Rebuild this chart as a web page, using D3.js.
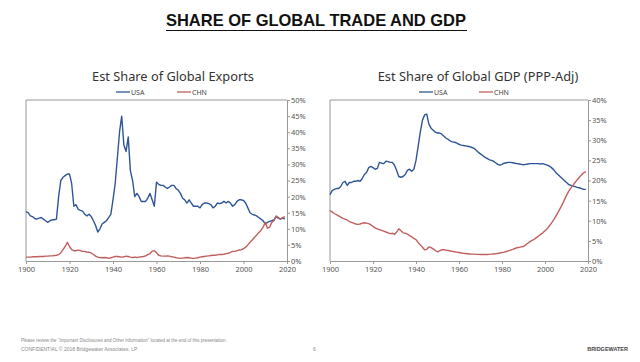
<!DOCTYPE html>
<html>
<head>
<meta charset="utf-8">
<script src="https://cdn.jsdelivr.net/npm/d3@7"></script>
<style>
  body { margin: 0; background: #fff; }
  svg { display: block; }
  .tick text { font-family: "Noto Sans", sans-serif; font-size: 7.5px; fill: #555; }
  .tick line { stroke: #999; }
  .domain { stroke: #999; }
</style>
</head>
<body>
<script>
"use strict";

var years = d3.range(1900, 2020);

// Est share of global exports, % (1900..2019)
var usaExports = [
  15.3, 15, 14, 13.8, 13.2, 13, 13.3, 13.5, 13, 12.5,
  12, 12.5, 12.8, 12.8, 13, 20, 25, 26, 26.5, 27,
  27, 24, 17, 17.5, 16, 15.7, 15.5, 14.5, 14, 14.5,
  13.8, 12.5, 11, 9, 10, 11.5, 12, 12.5, 13.5, 14.5,
  19, 24, 32, 40, 45, 36, 34, 38.5, 28, 25,
  20, 21, 20, 18.5, 18.5, 18.5, 19.5, 21, 19, 17,
  24.5, 23.8, 23.5, 23.5, 23, 22.5, 23, 23.5, 23.5, 22.5,
  22, 21, 19.5, 19, 18, 19, 18, 17, 17, 17,
  16.5, 17.5, 18, 18, 17.8, 17.5, 16.5, 17, 18, 17.8,
  18, 18.5, 18, 18.5, 18, 17, 17.5, 18.5, 19, 19,
  18.8, 18, 16.5, 15, 14.5, 14.3, 14, 13.5, 13, 12.5,
  11.5, 12, 12.3, 12.5, 12.8, 13.8, 13.3, 13, 13.4, 13
];
var chnExports = [
  1.2, 1.2, 1.2, 1.3, 1.3, 1.3, 1.4, 1.4, 1.4, 1.5,
  1.5, 1.6, 1.6, 1.7, 1.8, 2, 2.5, 3.5, 4.5, 5.8,
  4.5, 3.5, 3.2, 3.2, 3.4, 3.2, 3, 3, 2.8, 2.7,
  2.5, 2, 1.5, 1.2, 1.1, 1, 1.1, 1, 0.8, 1,
  1.2, 1.4, 1.4, 1.3, 1.2, 1.3, 1.5, 1.4, 1.2, 1.1,
  1.2, 1.1, 1.2, 1.3, 1.4, 1.6, 2, 2.3, 3, 3.2,
  2.6, 1.8, 1.6, 1.5, 1.5, 1.6, 1.5, 1.3, 1.2, 1,
  0.9, 0.8, 0.9, 1, 1.1, 1, 0.9, 0.8, 0.9, 1,
  1.2, 1.3, 1.4, 1.5, 1.6, 1.7, 1.8, 1.8, 1.9, 2,
  2, 2.1, 2.3, 2.4, 2.7, 3, 3, 3.2, 3.4, 3.5,
  3.8, 4.3, 5, 5.8, 6.5, 7.3, 8, 8.8, 9.5, 10.5,
  12, 10.2, 10.5, 12, 12.5, 14, 13.5, 13, 13.5, 13.8
];

// Est share of global GDP (PPP-adj), % (1900..2019)
var usaGdp = [
  16.5, 17.5, 17.8, 18, 18, 18.5, 19.5, 19.8, 18.8, 19.5,
  19.5, 19.8, 19.8, 20, 19.8, 20.5, 21.5, 22, 23.2, 23.5,
  23.2, 22.8, 23, 24.5, 24.3, 24.2, 24.8, 24.7, 24.5, 24.5,
  23.8, 22.5, 21, 20.8, 21, 21.5, 22.5, 22.8, 22.3, 22.8,
  25, 28.5, 32, 35, 36.3, 36.5, 34, 33, 32.5, 32,
  31.8, 31.8, 31.5, 31, 30.5, 30.2, 29.8, 29.6, 29.5, 29.3,
  29, 28.8, 28.7, 28.6, 28.5, 28.4, 28.2, 28, 27.5, 27,
  26.6, 26.2, 25.8, 25.5, 25.2, 25, 24.8, 24.4, 24, 23.8,
  24, 24.3, 24.4, 24.5, 24.5, 24.4, 24.3, 24.2, 24.1, 24,
  23.9, 24, 24.1, 24.2, 24.2, 24.2, 24.2, 24.2, 24.1, 24.2,
  24, 23.8, 23.6, 23.2, 22.7, 22, 21.5, 21, 20.5, 20,
  19.5, 19, 18.8, 18.6, 18.5, 18.3, 18.2, 18, 17.8, 17.8
];
var chnGdp = [
  12.5, 12.2, 11.8, 11.5, 11.2, 10.9, 10.6, 10.4, 10.2, 9.8,
  9.6, 9.4, 9.2, 9.1, 9.2, 9.4, 9.5, 9.4, 9.3, 9,
  8.6, 8.2, 8, 7.8, 7.6, 7.4, 7.2, 7, 6.8, 6.9,
  6.6, 7.2, 8, 7.5, 7, 6.9, 6.7, 6.3, 6, 5.6,
  5.3, 4.6, 4, 3.4, 2.8, 2.9, 3.5, 3.3, 3, 2.6,
  2.3, 2.5, 2.8, 2.8, 2.7, 2.6, 2.5, 2.4, 2.3, 2.2,
  2.1, 2, 1.9, 1.85, 1.8, 1.75, 1.7, 1.7, 1.65, 1.65,
  1.6, 1.6, 1.6, 1.6, 1.65, 1.7, 1.75, 1.8, 1.9, 2,
  2.1, 2.2, 2.35, 2.5, 2.7, 2.9, 3.1, 3.3, 3.4, 3.5,
  3.6, 4, 4.4, 4.8, 5.1, 5.4, 5.8, 6.2, 6.6, 7,
  7.5, 8, 8.7, 9.4, 10.2, 11.1, 12, 13, 14, 15.2,
  16.3, 17.3, 18.1, 18.8, 19.5, 20.2, 20.8, 21.4, 21.9, 22.2
];

var xTicks = [1900, 1920, 1940, 1960, 1980, 2000, 2020];
var seriesNames = ["USA", "CHN"];
var colors = {USA: "#2f5597", CHN: "#c0605e"};

var svg = d3.select("body").append("svg")
    .attr("width", 640)
    .attr("height", 362);

// Main title
svg.append("text")
    .attr("x", 316)
    .attr("y", 26)
    .attr("text-anchor", "middle")
    .attr("font-family", "Liberation Sans, Arial, sans-serif")
    .attr("font-weight", "bold")
    .attr("font-size", 17)
    .attr("textLength", 300)
    .attr("lengthAdjust", "spacingAndGlyphs")
    .attr("fill", "#111")
    .text("SHARE OF GLOBAL TRADE AND GDP");

svg.append("line")
    .attr("x1", 166).attr("x2", 467)
    .attr("y1", 30.5).attr("y2", 30.5)
    .attr("stroke", "#111")
    .attr("stroke-width", 1.2);

function drawChart(opts) {
    var g = svg.append("g");
    var x = d3.scaleLinear().domain([1900, 2020]).range([opts.left, opts.right]);
    var y = d3.scaleLinear().domain([0, opts.yMax]).range([opts.bottom, opts.top]);

    // frame
    g.append("path")
        .attr("d", "M" + opts.left + "," + opts.bottom + "V" + opts.top + "H" + opts.right)
        .attr("fill", "none")
        .attr("stroke", "#999");

    g.append("g")
        .attr("transform", "translate(0," + opts.bottom + ")")
        .call(d3.axisBottom(x).tickValues(xTicks).tickFormat(d3.format("d"))
            .tickSize(3).tickPadding(3));

    g.append("g")
        .attr("transform", "translate(" + opts.right + ",0)")
        .call(d3.axisRight(y).ticks(opts.yMax / 5).tickFormat(function (d) { return d + "%"; })
            .tickSize(3).tickPadding(1));

    g.selectAll(".domain").attr("stroke", "#999");

    var line = d3.line()
        .x(function (d, i) { return x(years[i]); })
        .y(function (d) { return y(d); });

    opts.series.forEach(function (s, i) {
        g.append("path")
            .datum(s)
            .attr("fill", "none")
            .attr("stroke", colors[seriesNames[i]])
            .attr("stroke-width", 1.4)
            .attr("stroke-linejoin", "round")
            .attr("d", line);
    });

    g.append("text")
        .attr("x", opts.titleX)
        .attr("y", 81)
        .attr("text-anchor", "middle")
        .attr("font-family", "Noto Sans, sans-serif")
        .attr("font-size", 12.8)
        .attr("fill", "#333")
        .text(opts.title);

    // legend
    seriesNames.forEach(function (name, i) {
        var lx = opts.legendX[i];
        g.append("line")
            .attr("x1", lx).attr("x2", lx + 14)
            .attr("y1", 92).attr("y2", 92)
            .attr("stroke", colors[name])
            .attr("stroke-width", 1.3);
        g.append("text")
            .attr("x", lx + 15)
            .attr("y", 94.5)
            .attr("font-family", "Noto Sans, sans-serif")
            .attr("font-size", 7)
            .attr("fill", "#444")
            .text(name);
    });
}

drawChart({
    left: 26, right: 287, top: 100, bottom: 261, yMax: 50,
    series: [usaExports, chnExports],
    title: "Est Share of Global Exports", titleX: 173,
    legendX: [116, 177]
});

drawChart({
    left: 330, right: 588, top: 100, bottom: 261, yMax: 40,
    series: [usaGdp, chnGdp],
    title: "Est Share of Global GDP (PPP-Adj)", titleX: 478,
    legendX: [419, 479]
});

// footer
var foot = svg.append("g")
    .attr("font-family", "Liberation Sans, Arial, sans-serif");

foot.append("text")
    .attr("x", 21).attr("y", 342)
    .attr("font-size", 4.5)
    .attr("fill", "#888")
    .text("Please review the \u201cImportant Disclosures and Other Information\u201d located at the end of this presentation.");

foot.append("text")
    .attr("x", 21).attr("y", 351)
    .attr("font-size", 5)
    .attr("fill", "#888")
    .text("CONFIDENTIAL \u00a9 2018 Bridgewater Associates, LP");

foot.append("text")
    .attr("x", 313).attr("y", 351)
    .attr("font-size", 5)
    .attr("fill", "#888")
    .text("6");

foot.append("text")
    .attr("x", 628).attr("y", 351)
    .attr("text-anchor", "end")
    .attr("font-size", 5.5)
    .attr("font-weight", "bold")
    .attr("fill", "#444")
    .text("BRIDGEWATER");
</script>
</body>
</html>
